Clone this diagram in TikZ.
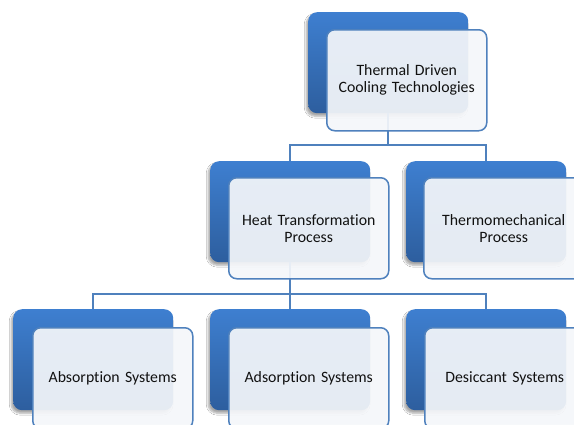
\documentclass[tikz,border=0pt]{standalone}
\usepackage{fontspec}
\setmainfont{Carlito}[WordSpace=0.55, Ligatures=NoCommon]
\usetikzlibrary{shadows.blur}
\definecolor{accent}{HTML}{4F81BD}
\definecolor{blueTop}{HTML}{3E7FD0}
\definecolor{blueBot}{HTML}{2D5E9E}
\definecolor{paleFill}{HTML}{F5F7FA}
\definecolor{ink}{HTML}{111111}
\tikzset{
  backbox/.style={rectangle, rounded corners=9pt, minimum width=160pt,
    minimum height=101pt, inner sep=0pt, anchor=north west,
    top color=blueTop, bottom color=blueBot, draw=none,
    blur shadow={shadow xshift=-2pt, shadow yshift=-3pt, shadow blur steps=6,
      shadow opacity=35}},
  frontbox/.style={rectangle, rounded corners=8pt, minimum width=160pt,
    minimum height=101pt, inner sep=0pt, anchor=north west,
    draw=accent, line width=1.5pt, fill=paleFill, fill opacity=0.92,
    text opacity=1, text=ink, align=center, text width=156pt,
    font=\fontsize{15.8pt}{17pt}\selectfont},
  link/.style={draw=accent, line width=1.5pt}
}
\begin{document}
\begin{tikzpicture}[x=1pt,y=-1pt]
\useasboundingbox (0,0) rectangle (574,424);
\fill[white] (0,0) rectangle (574,424);

% back (blue) tiles
\node[backbox] (topB) at (308,12) {};
\node[backbox] (htB)  at (210,161) {};
\node[backbox] (tmB)  at (406,161) {};
\node[backbox] (abB)  at (13,309) {};
\node[backbox] (adB)  at (210,309) {};
\node[backbox] (deB)  at (406,309) {};

% connectors of the tree
\draw[link] (htB.north) -- ++(0,-16) -| (topB.south);
\draw[link] (tmB.north) -- ++(0,-16) -| (topB.south);
\draw[link] (abB.north) -- ++(0,-15) -| (htB.south);
\draw[link] (adB.north) -- ++(0,-15) -| (htB.south);
\draw[link] (deB.north) -- ++(0,-15) -| (htB.south);

% front (pale) tiles carrying the labels
\node[frontbox] (topL) at (326,29)  {Thermal Driven\\Cooling Technologies};
\node[frontbox] (htL)  at (228,177) {Heat Transformation\\Process};
\node[frontbox] (tmL)  at (423,177) {Thermomechanical\\Process};
\node[frontbox] (abL)  at (32,327)  {Absorption Systems};
\node[frontbox] (adL)  at (228,327) {Adsorption Systems};
\node[frontbox] (deL)  at (424,327) {Desiccant Systems};
\end{tikzpicture}
\end{document}
